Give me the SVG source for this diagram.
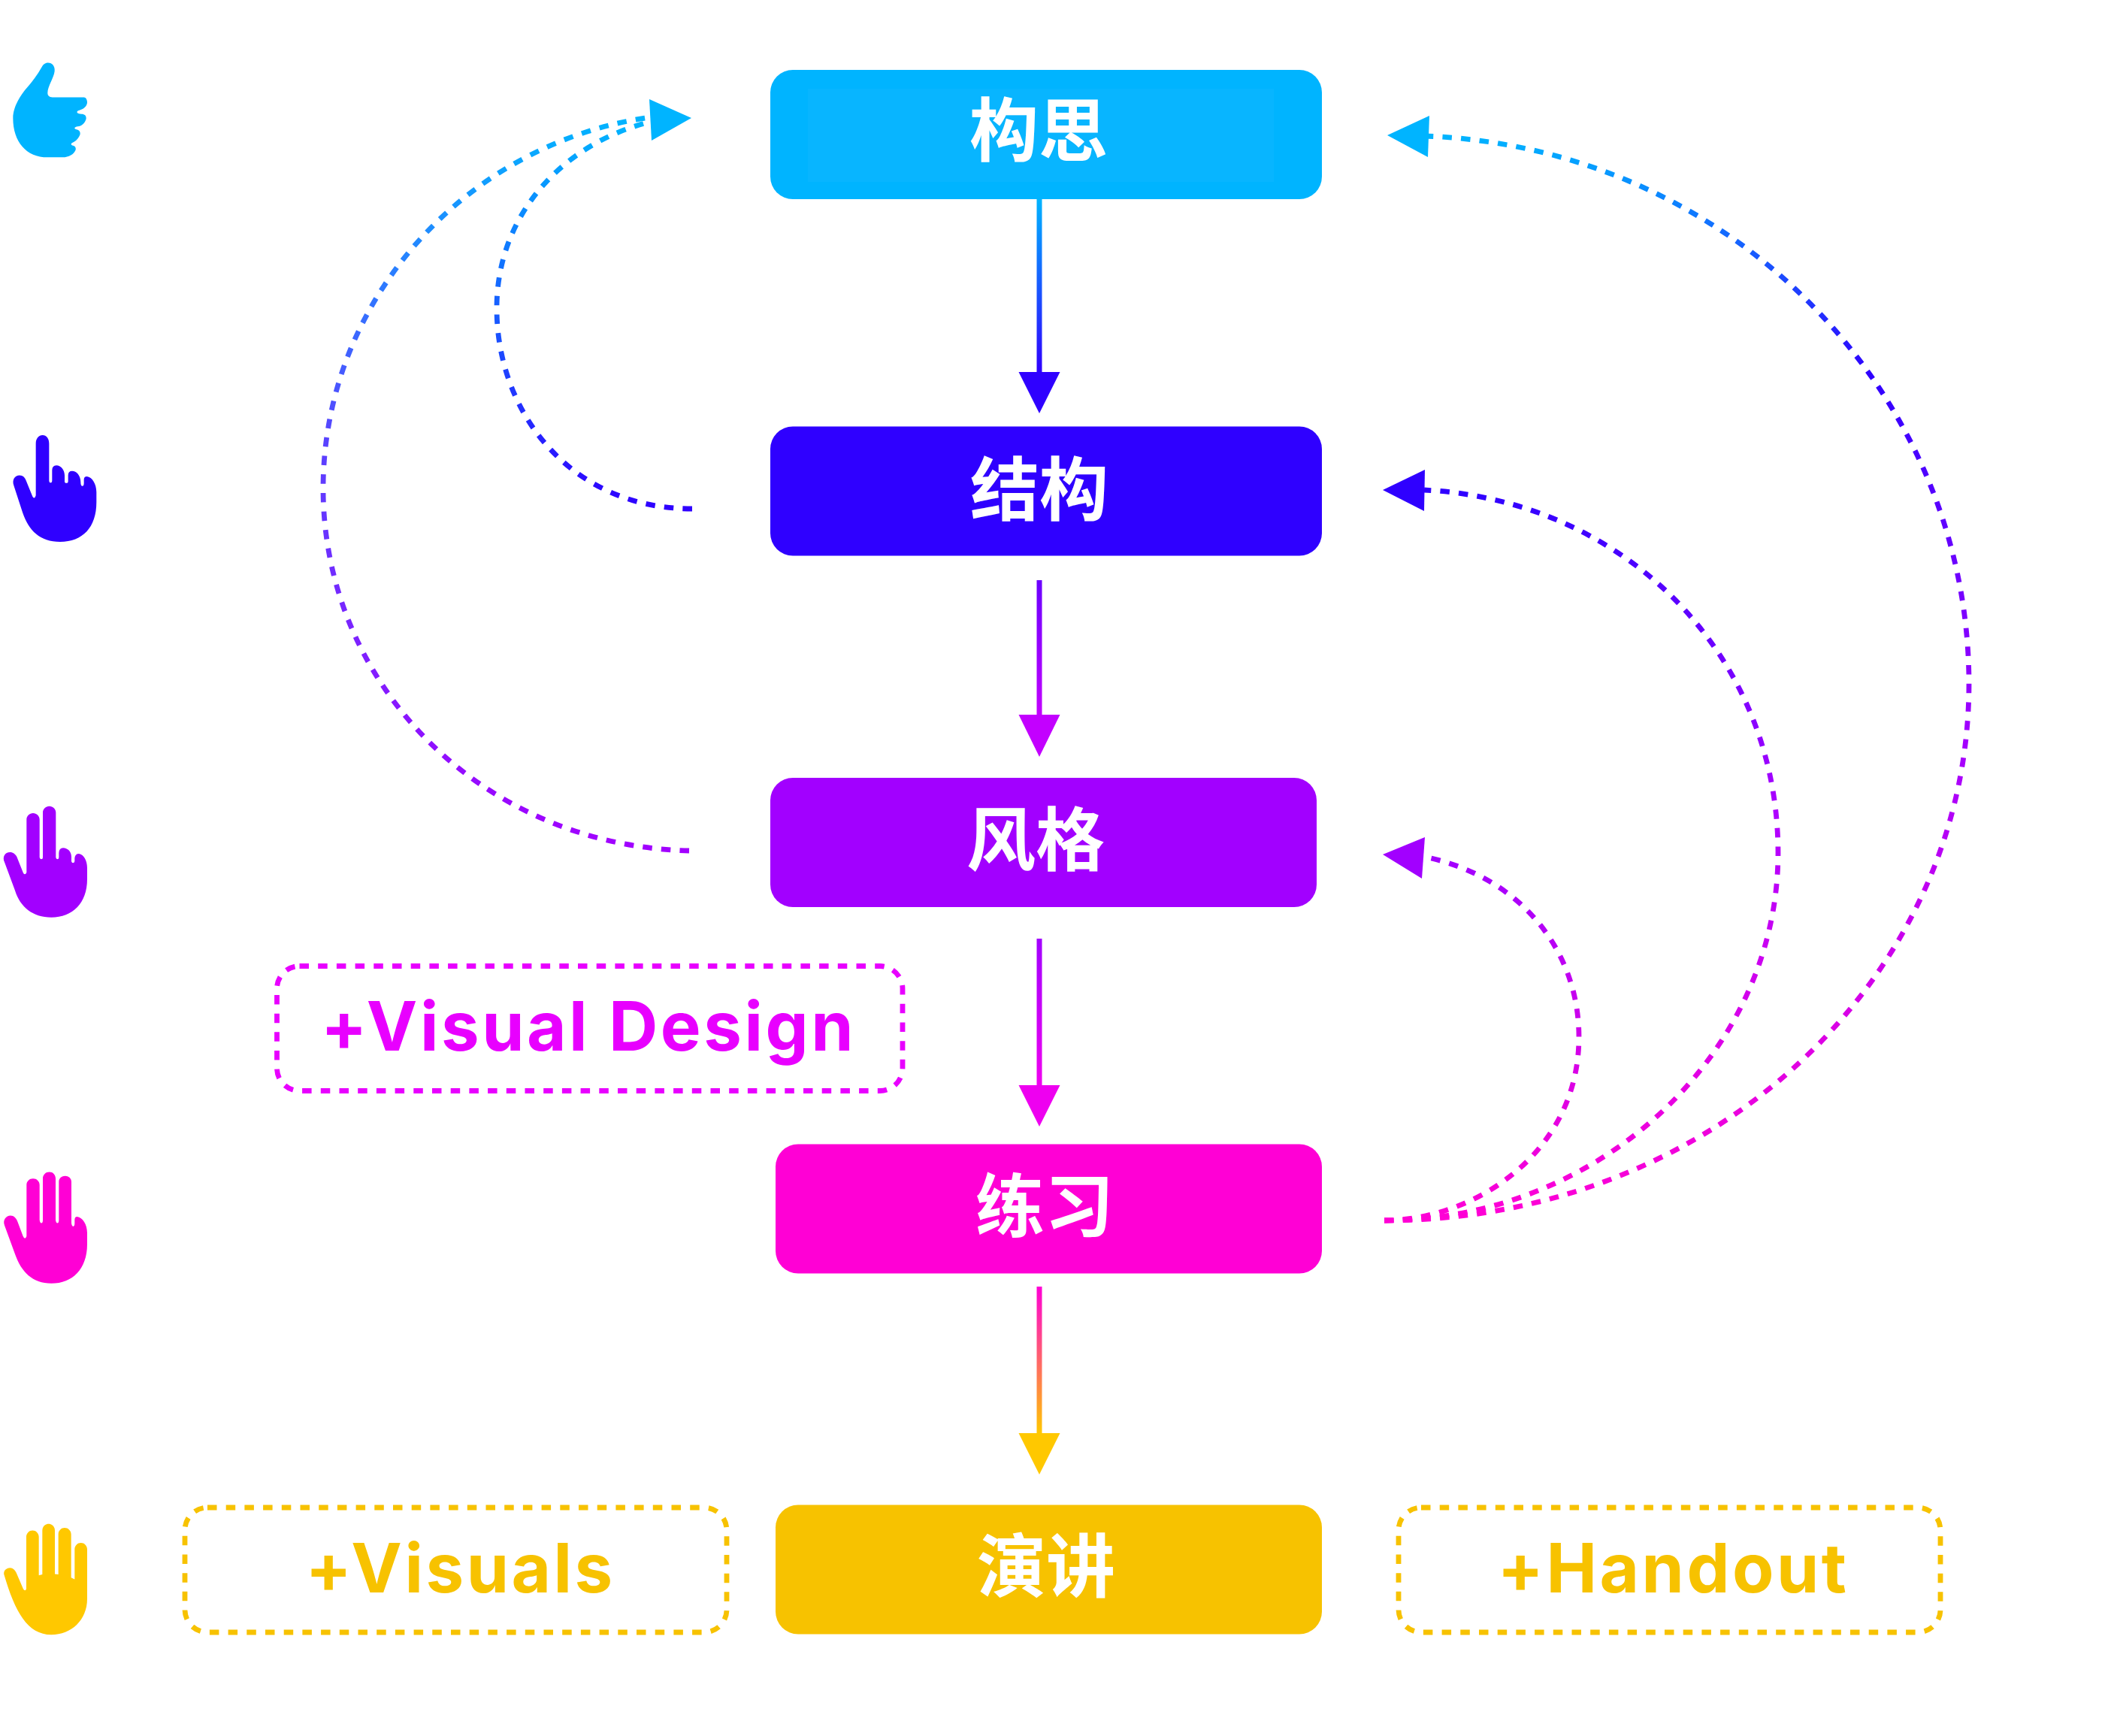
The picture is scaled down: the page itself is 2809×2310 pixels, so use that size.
<svg xmlns="http://www.w3.org/2000/svg" width="2809" height="2310" viewBox="0 0 2809 2310">
<style>
.box{stroke:none}
.zh{font-family:"Noto Sans CJK SC","Noto Sans",sans-serif;font-weight:700;font-size:92px;fill:#fff;text-anchor:middle}
.en{font-family:Inter,"Liberation Sans",sans-serif;font-weight:700;font-size:90.500px;letter-spacing:3.500px}
.dash{fill:none;stroke-width:6.800;stroke-dasharray:12.500 12.200}
.solid{fill:none;stroke-width:7}
</style>
<defs>
<linearGradient id="v1" gradientUnits="userSpaceOnUse" x1="0" y1="265" x2="0" y2="495"><stop offset="0" stop-color="#00B4FF"/><stop offset="1" stop-color="#2F00FF"/></linearGradient>
<linearGradient id="v2" gradientUnits="userSpaceOnUse" x1="0" y1="772" x2="0" y2="951"><stop offset="0" stop-color="#6A00FF"/><stop offset="1" stop-color="#C300FF"/></linearGradient>
<linearGradient id="v3" gradientUnits="userSpaceOnUse" x1="0" y1="1249" x2="0" y2="1444"><stop offset="0" stop-color="#A200FF"/><stop offset="1" stop-color="#F000F0"/></linearGradient>
<linearGradient id="v4" gradientUnits="userSpaceOnUse" x1="0" y1="1712" x2="0" y2="1907"><stop offset="0" stop-color="#FF00D5"/><stop offset="1" stop-color="#FFC800"/></linearGradient>
<linearGradient id="la" gradientUnits="userSpaceOnUse" x1="0" y1="158" x2="0" y2="1132"><stop offset="0" stop-color="#00B4FF"/><stop offset=".45" stop-color="#5A40FF"/><stop offset="1" stop-color="#A200FF"/></linearGradient>
<linearGradient id="lb" gradientUnits="userSpaceOnUse" x1="0" y1="165" x2="0" y2="677"><stop offset="0" stop-color="#00B4FF"/><stop offset="1" stop-color="#2F00FF"/></linearGradient>
<linearGradient id="r1" gradientUnits="userSpaceOnUse" x1="0" y1="181" x2="0" y2="1624"><stop offset="0" stop-color="#00B4FF"/><stop offset=".22" stop-color="#2F00FF"/><stop offset=".55" stop-color="#A200FF"/><stop offset="1" stop-color="#FF00D5"/></linearGradient>
<linearGradient id="r2" gradientUnits="userSpaceOnUse" x1="0" y1="652" x2="0" y2="1624"><stop offset="0" stop-color="#2F00FF"/><stop offset=".45" stop-color="#B000FF"/><stop offset="1" stop-color="#FF00D5"/></linearGradient>
<linearGradient id="r3" gradientUnits="userSpaceOnUse" x1="0" y1="1140" x2="0" y2="1624"><stop offset="0" stop-color="#A200FF"/><stop offset="1" stop-color="#FF00D5"/></linearGradient>
</defs>
<g id="connectors">
<path class="solid" stroke="url(#v1)" d="M1383 265V500"/>
<polygon fill="#2F00FF" points="1355.500,495 1410.500,495 1383,550"/>
<path class="solid" stroke="url(#v2)" d="M1383 772V955"/>
<polygon fill="#C300FF" points="1355.500,951 1410.500,951 1383,1007"/>
<path class="solid" stroke="url(#v3)" d="M1383 1249V1448"/>
<polygon fill="#EE00F0" points="1355.500,1444 1410.500,1444 1383,1499"/>
<path class="solid" stroke="url(#v4)" d="M1383 1712V1911"/>
<polygon fill="#FFC800" points="1355.500,1907 1410.500,1907 1383,1962"/>
<path class="dash" stroke="url(#la)" d="M917 1132C640 1125 430 910 430 650C430 400 620 190 866 156"/>
<path class="dash" stroke="url(#lb)" d="M921 677C760 677 661 550 661 410C661 285 750 190 866 162"/>
<polygon fill="#00B4FF" points="864,132 920,157 867,187"/>
<path class="dash" stroke="url(#r1)" d="M1842 1624C2280 1624 2620 1300 2620 910C2620 520 2300 195 1895 181"/>
<polygon fill="#00B4FF" points="1846,180 1902,154 1900,209"/>
<path class="dash" stroke="url(#r2)" d="M1842 1624C2130 1624 2366 1400 2366 1135C2366 870 2160 665 1895 652"/>
<polygon fill="#2F00FF" points="1840,652 1896,625 1895,680"/>
<path class="dash" stroke="url(#r3)" d="M1842 1624C1960 1624 2101 1535 2101 1380C2101 1262 2020 1165 1895 1140"/>
<polygon fill="#A200FF" points="1840,1137 1896,1114 1892,1169"/>
</g>
<g id="node-idea"><rect class="box" x="1025" y="93" width="734" height="172" rx="30" fill="#00B4FF"/><rect class="box" x="1075" y="118" width="620" height="124" fill="#08B5FF"/><text class="zh" x="1382" y="207">构思</text></g>
<g id="node-structure"><rect class="box" x="1025" y="567.500" width="734" height="172" rx="30" fill="#2F00FF"/><text class="zh" x="1383" y="685">结构</text></g>
<g id="node-style"><rect class="box" x="1025" y="1035" width="727" height="172" rx="30" fill="#A200FF"/><text class="zh" x="1378" y="1151">风格</text></g>
<g id="node-practice"><rect class="box" x="1032" y="1522.500" width="727" height="172" rx="30" fill="#FF00D5"/><text class="zh" x="1390" y="1639">练习</text></g>
<g id="node-present"><rect class="box" x="1032" y="2002.500" width="727" height="172" rx="30" fill="#F7C200"/><text class="zh" x="1392" y="2118">演讲</text></g>
<g id="note-visual-design"><rect class="dash" x="368.500" y="1285.500" width="832.500" height="166" rx="30" stroke="#E800FF"/><text class="en" x="427" y="1398" fill="#E800FF">+Visual Design</text></g>
<g id="note-visuals"><rect class="dash" x="246" y="2006" width="721" height="166" rx="30" stroke="#F7C200"/><text class="en" x="406.500" y="2119" fill="#F7C200">+Visuals</text></g>
<g id="note-handout"><rect class="dash" x="1861" y="2006" width="721" height="166" rx="30" stroke="#F7C200"/><text class="en" x="1992.500" y="2119" fill="#F7C200">+Handout</text></g>
<g id="hand-1"><path fill="#00B4FF" transform="translate(0,50) scale(.3333,.4464)" d="M165 90C172 80 180 75 192 75C208 75 220 85 218 100C215 120 190 145 190 165C190 175 200 178 215 178L335 178C343 178 349 186 348 195C345 210 325 215 312 218C302 222 310 228 325 228C338 228 345 233 344 242C340 255 325 265 310 265C298 266 293 272 305 274C315 275 321 280 320 288C315 300 302 310 290 313C282 316 282 320 292 322C300 323 304 328 302 335C295 348 275 357 250 357L190 357C105 357 52 310 52 240C52 205 85 170 105 152C130 130 150 110 165 90Z"/></g>
<g id="hand-2"><path fill="#2F00FF" transform="translate(0,50) scale(.3333,.4464)" d="M143 1210C143 1195 155 1185 170 1185C185 1185 196 1195 196 1210L196 1320Q196 1327 202 1327Q208 1327 208 1320L208 1290Q208 1275 225 1275C245 1275 258 1290 258 1305L258 1322Q258 1328 265 1328Q272 1328 272 1322L272 1305Q272 1292 288 1292C305 1292 322 1305 322 1325Q322 1337 329 1337Q335 1337 335 1328L335 1318Q335 1308 347 1308C368 1310 385 1330 385 1355L385 1385C385 1460 330 1503 240 1503C160 1503 115 1470 90 1415L55 1335C47 1318 60 1305 78 1305C92 1305 100 1312 105 1322L130 1368Q138 1378 143 1365Z"/></g>
<g id="hand-3"><path fill="#A200FF" transform="translate(0,1060) scale(.3333)" d="M106 92C106 77 118 66 132 66C146 66 158 77 158 92L158 243Q160 250 165 250Q171 250 171 243L171 64C171 49 183 38 197 38C211 38 223 49 223 64L223 243Q225 250 229 250Q235 250 235 243L235 225Q236 205 252 205C270 205 285 220 285 240L285 258Q287 265 291 265Q297 265 298 258L298 245Q300 228 315 228C335 232 348 255 348 285L348 330C348 425 290 482 205 482C130 482 80 440 60 375L18 262C8 240 20 222 40 222C52 222 62 230 67 240L93 305Q100 315 106 303Z"/></g>
<g id="hand-4"><path fill="#FF00D5" transform="translate(0,1530) scale(.3333,.4337)" d="M106 108C106 96 118 88 132 88C146 88 158 96 158 108L158 215Q160 225 165 225Q171 225 171 215L171 88C171 76 183 68 197 68C211 68 222 76 222 88L222 215Q224 225 229 225Q235 225 235 215L235 98C235 87 247 80 260 80C273 80 285 87 285 98L285 225Q287 235 292 235Q298 235 298 225L298 215Q298 205 308 205C330 208 348 228 348 255L348 290C348 365 290 410 205 410C130 410 85 375 60 320L18 232C10 215 25 202 42 202C55 202 65 210 70 220L92 265Q100 278 106 265Z"/></g>
<g id="hand-5"><path fill="#FFC800" transform="translate(0,1529) scale(.3333,.4337)" d="M105 1190C105 1178 117 1170 130 1170C143 1170 155 1178 155 1190L155 1308L169 1305L169 1170C169 1158 181 1150 194 1150C207 1150 219 1158 219 1170L219 1304L233 1305L233 1182C233 1170 245 1162 258 1162C271 1162 284 1170 284 1182L284 1315L298 1320L298 1228C298 1216 310 1208 323 1208C336 1208 348 1216 348 1228L348 1380C348 1445 285 1490 205 1490C110 1490 60 1420 16 1305C13 1293 27 1285 40 1285C52 1285 60 1292 65 1300L93 1350Q100 1358 105 1350Z"/></g>
</svg>
